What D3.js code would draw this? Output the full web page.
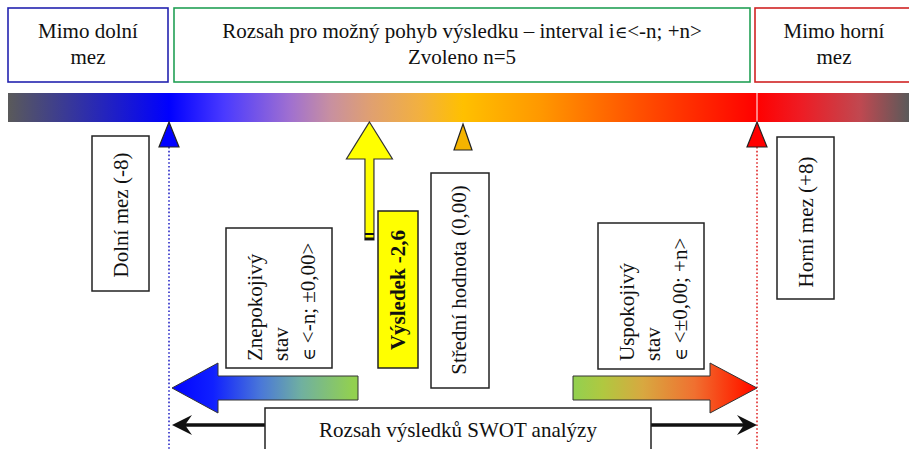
<!DOCTYPE html>
<html>
<head>
<meta charset="utf-8">
<script src="https://cdn.jsdelivr.net/npm/d3@7"></script>
<style>
  html, body { margin: 0; padding: 0; background: #fff; }
</style>
</head>
<body>
<div id="chart"></div>
<script>
// values of the diagram
var limitValues = [-8, 8];
var meanValue = 0;
var resultValue = -2.6;
var topLabels = [
  ["Mimo dolní", "mez"],
  ["Rozsah pro možný pohyb výsledku – interval i∈<-n; +n>", "Zvoleno n=5"],
  ["Mimo horní", "mez"]
];
var limitLabels = ["Dolní mez (-8)", "Horní mez (+8)"];
var stateLabels = [
  ["Znepokojivý", "stav", "∈ <-n; ±0,00>"],
  ["Uspokojivý", "stav", "∈ <±0,00; +n>"]
];
var meanLabel = "Střední hodnota (0,00)";
var resultLabel = "Výsledek -2,6";
var rangeLabel = "Rozsah výsledků SWOT analýzy";

var width = 909,
    height = 449,
    fontSize = 21,
    fontFamily = '"Liberation Serif", "DejaVu Serif", "Times New Roman", serif';

var x = d3.scaleLinear().domain(limitValues).range([169, 757]);

var svg = d3.select('#chart')
  .append('svg')
  .attr('width', width)
  .attr('height', height)
  .style('font-family', fontFamily);

var defs = svg.append('defs');

function gradient(id, x1, x2, stops) {
  var g = defs.append('linearGradient')
    .attr('id', id)
    .attr('gradientUnits', 'userSpaceOnUse')
    .attr('x1', x1).attr('x2', x2)
    .attr('y1', 0).attr('y2', 0);
  g.selectAll('stop')
    .data(stops)
    .enter()
    .append('stop')
    .attr('offset', function(d) { return Math.max(0, Math.min(1, (x(d[0]) - x1) / (x2 - x1))); })
    .attr('stop-color', function(d) { return d[1]; });
}

// colour bar, stops given on the value scale
var barLeft = 8, barRight = width;
gradient('barGrad', barLeft, barRight, [
  [x.invert(barLeft), '#5a5a5a'],
  [-8, '#0000ff'],
  [-6.5, '#4a3aff'],
  [-4.7, '#a070d0'],
  [-3.6, '#c890a0'],
  [-2.5, '#e0a070'],
  [-1.2, '#f2b040'],
  [0, '#ffc000'],
  [2.1, '#ff9800'],
  [4.8, '#ff5000'],
  [8, '#ff0000'],
  [9.2, '#ee1c24'],
  [10.8, '#c04850'],
  [x.invert(barRight), '#5a5a5a']
]);
gradient('leftGrad', x(-8), 358, [
  [-8, '#0000ff'],
  [-6.8, '#1020ff'],
  [-5.5, '#4a78d8'],
  [-4.4, '#70b0a0'],
  [-3.0, '#92d050']
]);
gradient('rightGrad', 573, x(8), [
  [3.0, '#92d050'],
  [3.8, '#b0c840'],
  [4.9, '#d8a840'],
  [6.3, '#f07030'],
  [7.6, '#ff2000'],
  [8, '#ff0000']
]);

function label(sel) {
  return sel
    .style('font-family', fontFamily)
    .style('font-size', fontSize + 'px')
    .style('fill', '#111');
}

// writes a string, the ∈ sign a bit smaller (as in the source)
function fill(sel, str) {
  var parts = str.split('∈');
  parts.forEach(function(p, i) {
    if (i > 0) sel.append('tspan').style('font-size', '17px').text('∈');
    if (p) sel.append('tspan').text(p);
  });
}

// top boxes
var topBoxes = [
  { x0: 8, x1: 168, color: '#2323b0' },
  { x0: 174, x1: 750, color: '#22a055' },
  { x0: 755, x1: 913, color: '#d02424' }
];
topBoxes.forEach(function(b, i) {
  svg.append('rect')
    .attr('x', b.x0).attr('y', 8)
    .attr('width', b.x1 - b.x0).attr('height', 74)
    .attr('fill', '#fff')
    .attr('stroke', b.color)
    .attr('stroke-width', 1.6);
  svg.append('g').selectAll('text')
    .data(topLabels[i])
    .enter()
    .append('text')
    .attr('x', (b.x0 + b.x1) / 2)
    .attr('y', function(d, j) { return 38 + j * 26; })
    .attr('text-anchor', 'middle')
    .call(label)
    .each(function(d) { fill(d3.select(this), d); });
});

// colour bar
svg.append('rect')
  .attr('x', barLeft).attr('y', 93)
  .attr('width', barRight - barLeft).attr('height', 29)
  .attr('fill', 'url(#barGrad)');
svg.append('line')
  .attr('x1', x(8)).attr('x2', x(8))
  .attr('y1', 93).attr('y2', 122)
  .attr('stroke', '#fff').attr('stroke-width', 1);

// dotted limit lines
[[-8, '#2a2ac8'], [8, '#e02a2a']].forEach(function(d) {
  svg.append('line')
    .attr('x1', x(d[0])).attr('x2', x(d[0]))
    .attr('y1', 147).attr('y2', height)
    .attr('stroke', d[1])
    .attr('stroke-width', 1.6)
    .attr('stroke-dasharray', '1.6,2.2');
});

// triangle markers
var markers = [
  { v: limitValues[0], fill: '#0000ff', top: 122, h: 25, hw: 10 },
  { v: meanValue, fill: '#f5b400', top: 124, h: 26, hw: 9 },
  { v: limitValues[1], fill: '#ff0000', top: 122, h: 25, hw: 10 }
];
svg.append('g').selectAll('path')
  .data(markers)
  .enter()
  .append('path')
  .attr('d', function(d) {
    var cx = x(d.v);
    return 'M' + cx + ',' + d.top + 'L' + (cx + d.hw) + ',' + (d.top + d.h) +
      'L' + (cx - d.hw) + ',' + (d.top + d.h) + 'Z';
  })
  .attr('fill', function(d) { return d.fill; })
  .attr('stroke', '#222')
  .attr('stroke-width', 1.2);

// result arrow (yellow)
var rx = x(resultValue) + 2;
svg.append('path')
  .attr('d', 'M' + rx + ',122L' + (rx + 23) + ',159L' + (rx + 4.5) + ',159L' + (rx + 4.5) + ',240' +
    'L' + (rx - 4.5) + ',240L' + (rx - 4.5) + ',159L' + (rx - 23) + ',159Z')
  .attr('fill', '#ffff00')
  .attr('stroke', '#333')
  .attr('stroke-width', 1.2);
svg.append('rect')
  .attr('x', rx - 4.5).attr('y', 233)
  .attr('width', 9).attr('height', 2)
  .attr('fill', '#111');
svg.append('rect')
  .attr('x', rx - 4.5).attr('y', 237.5)
  .attr('width', 9).attr('height', 2.5)
  .attr('fill', '#111');

// vertical text boxes
function vbox(x0, y0, w, h, bg) {
  svg.append('rect')
    .attr('x', x0).attr('y', y0)
    .attr('width', w).attr('height', h)
    .attr('fill', bg || '#fff')
    .attr('stroke', '#222')
    .attr('stroke-width', 1.5);
}
function vtext(cx, cy, str, anchor, bold) {
  var t = svg.append('text')
    .attr('transform', 'translate(' + cx + ',' + cy + ') rotate(-90)')
    .attr('text-anchor', anchor || 'middle')
    .attr('dy', '0.32em')
    .call(label)
    .style('font-weight', bold ? 'bold' : 'normal');
  fill(t, str);
}

vbox(92, 136, 57, 155);
vtext(121, 215, limitLabels[0]);
vbox(777, 137, 57, 162);
vtext(806, 222, limitLabels[1]);

vbox(378, 211, 40, 157, '#ffff00');
vtext(398, 290, resultLabel, 'middle', true);

vbox(x(meanValue) - 32, 173, 58, 215);
vtext(x(meanValue) - 4, 280, meanLabel);

[[226, 228], [598, 223]].forEach(function(b, i) {
  vbox(b[0], b[1], 106, 369 - b[1] - (i === 0 ? 1 : 0));
  stateLabels[i].forEach(function(s, j) {
    vtext(b[0] + 29 + j * 26.5, 361, s, 'start');
  });
});

// gradient arrows
var ay = 388;
var lt = x(-8) + 3;
svg.append('path')
  .attr('d', 'M' + lt + ',' + ay + 'L' + (lt + 46) + ',' + (ay - 25) + 'L' + (lt + 46) + ',' + (ay - 12) +
    'L358,' + (ay - 12) + 'L358,' + (ay + 12) + 'L' + (lt + 46) + ',' + (ay + 12) +
    'L' + (lt + 46) + ',' + (ay + 25) + 'Z')
  .attr('fill', 'url(#leftGrad)')
  .attr('stroke', '#333')
  .attr('stroke-width', 1);
var rt = x(8);
svg.append('path')
  .attr('d', 'M' + rt + ',' + ay + 'L' + (rt - 47) + ',' + (ay - 25) + 'L' + (rt - 47) + ',' + (ay - 12) +
    'L573,' + (ay - 12) + 'L573,' + (ay + 12) + 'L' + (rt - 47) + ',' + (ay + 12) +
    'L' + (rt - 47) + ',' + (ay + 25) + 'Z')
  .attr('fill', 'url(#rightGrad)')
  .attr('stroke', '#333')
  .attr('stroke-width', 1);

// range arrows and box
var by = 425;
[[x(-8) + 3, 265, 1], [x(8), 651, -1]].forEach(function(d) {
  var tip = d[0], s = d[2];
  svg.append('line')
    .attr('x1', d[1]).attr('x2', tip + s * 12)
    .attr('y1', by).attr('y2', by)
    .attr('stroke', '#111')
    .attr('stroke-width', 3.5);
  svg.append('path')
    .attr('d', 'M' + tip + ',' + by + 'L' + (tip + s * 20) + ',' + (by - 10) + 'L' + (tip + s * 13) + ',' + by +
      'L' + (tip + s * 20) + ',' + (by + 10) + 'Z')
    .attr('fill', '#111');
});
svg.append('rect')
  .attr('x', 265).attr('y', 408)
  .attr('width', 386).attr('height', 60)
  .attr('fill', '#fff')
  .attr('stroke', '#222')
  .attr('stroke-width', 1.5);
svg.append('text')
  .attr('x', 458).attr('y', 437)
  .attr('text-anchor', 'middle')
  .call(label)
  .text(rangeLabel);
</script>
</body>
</html>
